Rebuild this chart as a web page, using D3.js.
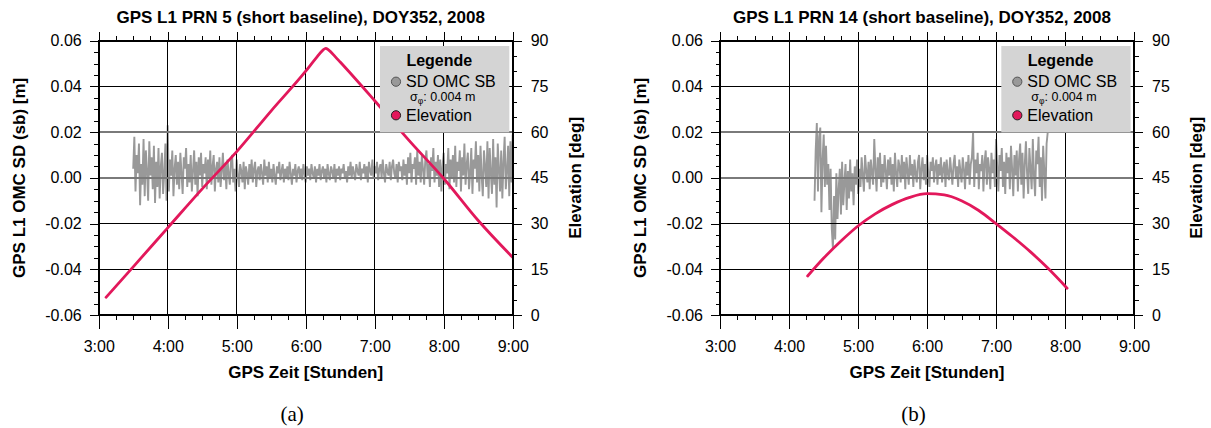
<!DOCTYPE html>
<html><head><meta charset="utf-8">
<script src="https://cdn.jsdelivr.net/npm/d3@7"></script>
<style>body{margin:0;background:#fff}svg{display:block}</style>
</head><body>
<svg id="c" width="1211" height="428"></svg>
<script>
// ---------------- data ----------------
const panelTitles = ["GPS L1 PRN 5 (short baseline), DOY352, 2008", "GPS L1 PRN 14 (short baseline), DOY352, 2008"];
const panelTags = ["(a)", "(b)"];
const xTickHours = [3, 4, 5, 6, 7, 8, 9];
const xTickLabels = ["3:00", "4:00", "5:00", "6:00", "7:00", "8:00", "9:00"];
const yTickValues = [-0.06, -0.04, -0.02, 0, 0.02, 0.04, 0.06];
const yTickLabels = ["-0.06", "-0.04", "-0.02", "0.00", "0.02", "0.04", "0.06"];
const elevTickValues = [0, 15, 30, 45, 60, 75, 90];
const elevTickLabels = ["0", "15", "30", "45", "60", "75", "90"];
const legendTitle = "Legende";
const seriesNames = ["SD OMC SB", "Elevation"];
const sigmaLabel = ": 0.004 m";

// PRN 5: SD OMC in millimetres, one value per minute from 3:30 to 9:00
const prn5OmcStart = 3.5, prn5OmcEnd = 9.0;
const prn5OmcMM = [
  4,18,-6,10,2,15,-12,6,-3,17,
  -8,12,3,-10,16,1,9,-5,14,-11,
  7,-4,13,-9,5,11,-7,2,15,-10,
  23,-6,8,1,12,-8,4,10,-3,7,
  -5,11,2,-7,9,4,13,-4,6,-2,
  10,-6,3,12,-3,7,-8,9,1,11,
  -4,6,2,9,-5,8,0,12,-3,5,
  10,-6,4,7,-2,9,-4,3,11,-1,
  6,-5,8,2,-3,7,10,-2,4,-6,
  8,1,-4,6,3,-2,7,-5,5,2,
  -3,6,0,8,-2,4,7,-4,3,5,
  -1,6,2,-3,8,1,5,-2,7,0,
  4,-2,6,1,-3,5,2,7,-1,3,
  6,-2,4,0,5,-1,7,2,-3,4,
  1,6,-2,3,5,0,4,-1,6,2,
  -2,5,1,4,-1,6,2,0,5,-2,
  4,1,6,-1,3,5,0,4,-2,6,
  2,-1,5,3,0,6,-2,4,1,5,
  -1,4,2,6,0,3,-2,5,1,7,
  0,5,2,-1,6,3,1,7,-1,4,
  2,6,0,5,-2,7,3,1,8,0,
  5,2,7,-1,4,6,0,8,2,-2,
  6,3,1,7,-1,5,8,2,0,6,
  -2,7,3,5,-1,8,1,6,-3,9,
  2,11,-2,6,4,9,-3,12,1,7,
  -2,10,4,-3,8,12,0,6,-4,9,
  3,13,-2,7,1,10,-4,8,-6,5,
  11,-3,6,2,13,-5,8,0,10,-2,
  14,-4,7,3,12,-6,9,1,15,-3,
  6,11,-5,2,13,-7,8,4,16,-2,
  10,-6,14,1,-8,12,5,-4,16,-9,
  13,2,-7,17,-3,9,-13,15,4,-6,
  12,-9,7,18,-5,3,14,-8,16,-2,
  19];
const prn5ElevHours = [3.106, 3.5, 4.0, 4.5, 5.0, 5.5, 6.0, 6.15, 6.25, 6.29, 6.33, 6.43, 6.5, 7.0, 7.5, 8.0, 8.5, 9.0];
const prn5Elev = [5.8, 15.8, 28.6, 41.4, 53.6, 67.0, 80.0, 84.3, 86.9, 87.5, 87.0, 84.7, 83.0, 70.3, 57.2, 44.8, 31.0, 18.9];

// PRN 14: SD OMC in millimetres, one value per minute from 4:22 to 7:45
const prn14OmcStart = 4.37, prn14OmcEnd = 7.75;
const prn14OmcMM = [
  -10,12,24,-6,18,22,-15,8,19,-4,
  14,-3,6,-14,4,-22,-31,-8,-27,2,
  -18,-5,4,-16,7,-12,-2,6,-14,3,
  -9,8,-6,2,-12,5,-3,8,-7,4,
  -4,9,1,-6,10,3,-2,7,-5,8,
  2,-3,17,4,-6,9,0,11,-4,6,
  -2,10,3,-5,8,1,9,-3,6,-6,
  11,2,-4,8,5,-2,10,0,7,-5,
  9,3,-3,10,1,6,-4,8,2,-2,
  7,10,-5,4,9,-1,6,-3,10,2,
  -4,7,3,9,-2,5,8,-3,6,1,
  9,-2,4,7,-4,8,2,-1,9,3,
  -3,6,10,0,5,-4,8,3,-2,9,
  4,-5,7,1,10,-3,6,9,20,-4,
  8,2,11,-5,6,3,10,-6,7,12,
  -3,9,4,-5,11,2,8,-4,17,5,
  -6,10,3,13,-4,7,-7,11,2,9,
  -5,14,4,-8,10,1,12,-6,8,15,
  -3,11,-9,6,16,2,-7,13,4,-5,
  17,1,-8,12,6,18,-4,9,-10,14,
  3,-9,15,20];
const prn14ElevHours = [4.27, 4.5, 4.75, 5.0, 5.25, 5.5, 5.75, 6.0, 6.25, 6.5, 6.75, 7.0, 7.25, 7.5, 7.75, 8.03];
const prn14Elev = [12.8, 18.6, 24.2, 29.2, 33.2, 36.3, 38.6, 39.8, 39.4, 37.5, 34.3, 30.0, 25.5, 20.7, 15.4, 8.8];

// ---------------- drawing ----------------
const FONT = "'Liberation Sans', Arial, Helvetica, sans-serif";
const RED = "#e2185b", GRAY = "#999999";
const PT = 40.7, PB = 315;
const svg = d3.select("#c");
svg.append("rect").attr("width", 1211).attr("height", 428).attr("fill", "#fff");

const panels = [
  {x0: 98.7, x1: 512.7, title: panelTitles[0], tag: panelTags[0], omc: prn5OmcMM, omcStart: prn5OmcStart, omcEnd: prn5OmcEnd, eh: prn5ElevHours, ev: prn5Elev},
  {x0: 720, x1: 1134, title: panelTitles[1], tag: panelTags[1], omc: prn14OmcMM, omcStart: prn14OmcStart, omcEnd: prn14OmcEnd, eh: prn14ElevHours, ev: prn14Elev}
];

function styleAxis(ax, size) {
  ax.attr("font-family", FONT).attr("font-size", size);
  ax.select(".domain").remove();
  ax.selectAll("line").attr("stroke", "#000").attr("stroke-width", 1).attr("shape-rendering", "crispEdges");
  ax.selectAll("text").attr("fill", "#000");
}

panels.forEach((p, pi) => {
  const g = svg.append("g");
  const x = d3.scaleLinear().domain([3, 9]).range([p.x0, p.x1]);
  const y = d3.scaleLinear().domain([-0.06, 0.06]).range([PB, PT]);
  const yE = d3.scaleLinear().domain([0, 90]).range([PB, PT]);
  const cx = (p.x0 + p.x1) / 2;

  const clipId = "clip" + pi;
  g.append("clipPath").attr("id", clipId).append("rect")
    .attr("x", p.x0).attr("y", PT).attr("width", p.x1 - p.x0).attr("height", PB - PT);

  // OMC series (mm -> m)
  const step = (p.omcEnd - p.omcStart) / (p.omc.length - 1);
  g.append("path").datum(p.omc)
    .attr("clip-path", `url(#${clipId})`)
    .attr("d", d3.line().x((d, i) => x(p.omcStart + i * step)).y(d => y(d / 1000)))
    .attr("fill", "none").attr("stroke", GRAY).attr("stroke-width", 1.9).attr("stroke-linejoin", "miter");

  // grid
  const grid = g.append("g").attr("shape-rendering", "crispEdges");
  xTickHours.forEach(h => grid.append("line").attr("x1", x(h)).attr("x2", x(h)).attr("y1", PT).attr("y2", PB)
    .attr("stroke", "#000").attr("stroke-width", 1));
  yTickValues.forEach(v => {
    const soft = (v === 0 || v === 0.02);
    grid.append("line").attr("x1", p.x0).attr("x2", p.x1).attr("y1", y(v)).attr("y2", y(v))
      .attr("stroke", soft ? "#7a7a7a" : "#000").attr("stroke-width", soft ? 2 : 1);
  });

  // elevation
  const elevData = p.eh.map((h, i) => [h, p.ev[i]]);
  g.append("path").datum(elevData)
    .attr("clip-path", `url(#${clipId})`)
    .attr("d", d3.line().curve(d3.curveMonotoneX).x(d => x(d[0])).y(d => yE(d[1])))
    .attr("fill", "none").attr("stroke", RED).attr("stroke-width", 2.8).attr("stroke-linecap", "round");

  // axes
  const axL = g.append("g").attr("transform", `translate(${p.x0},0)`)
    .call(d3.axisLeft(y).tickValues(yTickValues).tickSize(9).tickPadding(8).tickFormat((d, i) => yTickLabels[i]));
  styleAxis(axL, 16);
  const axLm = g.append("g").attr("transform", `translate(${p.x0},0)`)
    .call(d3.axisLeft(y).tickValues(y.ticks(24)).tickSize(4.5).tickFormat(""));
  styleAxis(axLm, 16);

  const axR = g.append("g").attr("transform", `translate(${p.x1},0)`)
    .call(d3.axisRight(yE).tickValues(elevTickValues).tickSize(9).tickPadding(9).tickFormat((d, i) => elevTickLabels[i]));
  styleAxis(axR, 16);
  const axRm = g.append("g").attr("transform", `translate(${p.x1},0)`)
    .call(d3.axisRight(yE).tickValues(yE.ticks(18)).tickSize(4.5).tickFormat(""));
  styleAxis(axRm, 16);

  const axB = g.append("g").attr("transform", `translate(0,${PB})`)
    .call(d3.axisBottom(x).tickValues(xTickHours).tickSize(14).tickPadding(11.5).tickFormat((d, i) => xTickLabels[i]));
  styleAxis(axB, 16);
  const axBm = g.append("g").attr("transform", `translate(0,${PB})`)
    .call(d3.axisBottom(x).tickValues(d3.range(3, 9.001, 0.25)).tickSize(4.5).tickFormat(""));
  styleAxis(axBm, 16);

  const axT = g.append("g").attr("transform", `translate(0,${PT})`)
    .call(d3.axisTop(x).tickValues(xTickHours).tickSize(9).tickFormat(""));
  styleAxis(axT, 16);
  const axTm = g.append("g").attr("transform", `translate(0,${PT})`)
    .call(d3.axisTop(x).tickValues(d3.range(3, 9.001, 0.25)).tickSize(4.5).tickFormat(""));
  styleAxis(axTm, 16);

  // frame
  g.append("rect").attr("x", p.x0).attr("y", PT).attr("width", p.x1 - p.x0).attr("height", PB - PT)
    .attr("fill", "none").attr("stroke", "#000").attr("stroke-width", 2).attr("shape-rendering", "crispEdges");

  // titles
  g.append("text").attr("x", cx - 5).attr("y", 23).attr("text-anchor", "middle").attr("fill", "#000")
    .attr("font-family", FONT).attr("font-size", 17).attr("font-weight", "bold").text(p.title);
  g.append("text").attr("x", cx).attr("y", 377.5).attr("text-anchor", "middle").attr("fill", "#000")
    .attr("font-family", FONT).attr("font-size", 17).attr("font-weight", "bold").text("GPS Zeit [Stunden]");
  g.append("text").attr("transform", `translate(${p.x0 - 79.5},${(PT + PB) / 2}) rotate(-90)`)
    .attr("dy", "0.35em").attr("text-anchor", "middle").attr("fill", "#000")
    .attr("font-family", FONT).attr("font-size", 17).attr("font-weight", "bold").text("GPS L1 OMC SD (sb) [m]");
  g.append("text").attr("transform", `translate(${p.x1 + 62},${(PT + PB) / 2}) rotate(-90)`)
    .attr("dy", "0.35em").attr("text-anchor", "middle").attr("fill", "#000")
    .attr("font-family", FONT).attr("font-size", 17).attr("font-weight", "bold").text("Elevation [deg]");
  g.append("text").attr("x", cx - 13.5).attr("y", 421).attr("text-anchor", "middle").attr("fill", "#000")
    .attr("font-family", "'Liberation Serif', 'DejaVu Serif', serif").attr("font-size", 21).text(p.tag);

  // legend
  const lx = p.x1 - 3.4 - 129.3, ly = 46;
  const lg = g.append("g");
  lg.append("rect").attr("x", lx).attr("y", ly).attr("width", 129.3).attr("height", 86.3).attr("fill", "#d4d4d4");
  lg.append("text").attr("x", lx + 59.3).attr("y", 66).attr("text-anchor", "middle").attr("fill", "#000")
    .attr("font-family", FONT).attr("font-size", 16).attr("font-weight", "bold").text(legendTitle);
  lg.append("circle").attr("cx", lx + 16).attr("cy", 81.7).attr("r", 4.6).attr("fill", GRAY).attr("stroke", "#555").attr("stroke-width", 1);
  lg.append("text").attr("x", lx + 26).attr("y", 86.5).attr("fill", "#000").attr("font-family", FONT).attr("font-size", 16).text(seriesNames[0]);
  const st = lg.append("text").attr("x", lx + 30).attr("y", 101).attr("fill", "#000").attr("font-family", FONT).attr("font-size", 12.5);
  st.append("tspan").attr("fill", "#000").text("σ");
  st.append("tspan").attr("fill", "#000").attr("font-size", 8.5).attr("dy", 3).text("φ");
  st.append("tspan").attr("fill", "#000").attr("dy", -3).text(sigmaLabel);
  lg.append("circle").attr("cx", lx + 16).attr("cy", 115.3).attr("r", 4.6).attr("fill", RED).attr("stroke", "#222").attr("stroke-width", 1);
  lg.append("text").attr("x", lx + 26).attr("y", 120.7).attr("fill", "#000").attr("font-family", FONT).attr("font-size", 16).text(seriesNames[1]);
});
</script>
</body></html>
